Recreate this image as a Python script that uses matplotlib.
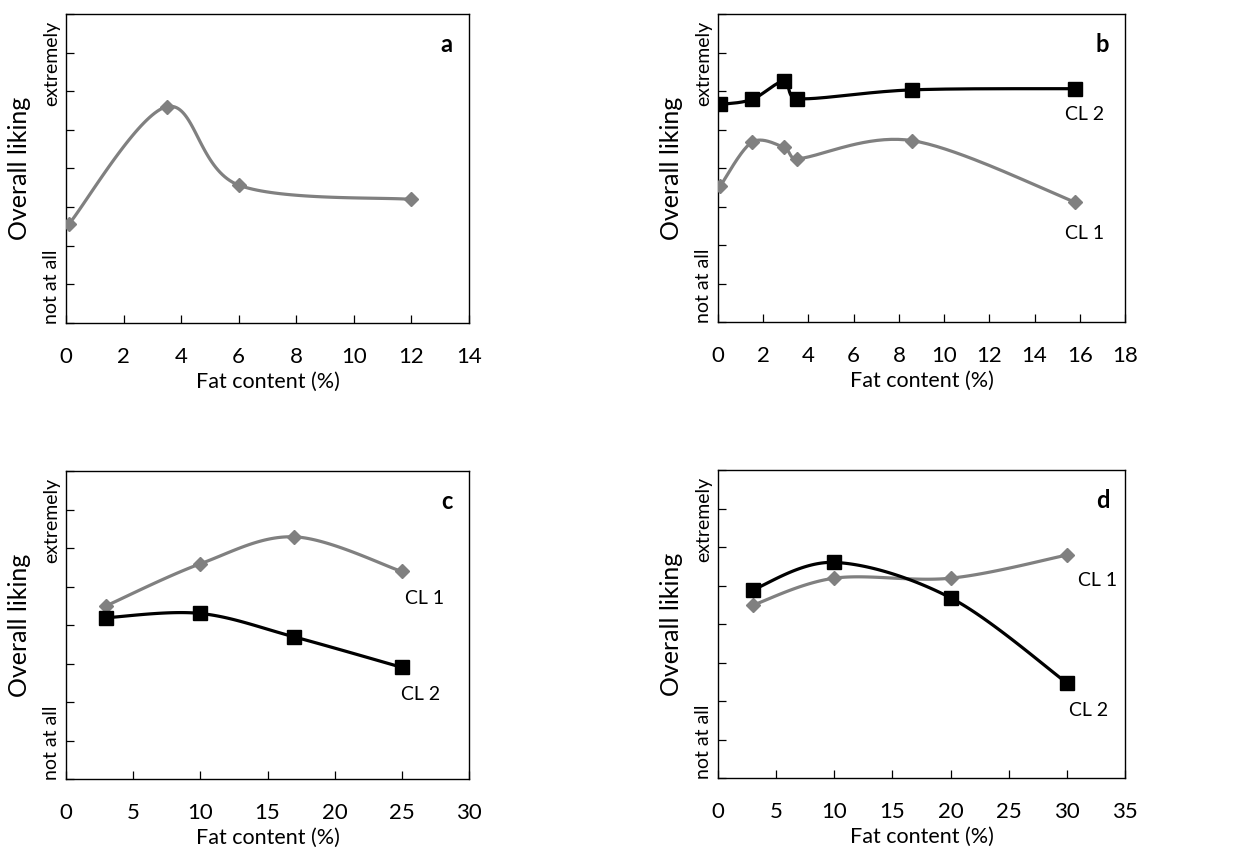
import numpy as np
import matplotlib
matplotlib.use("Agg")
import matplotlib.pyplot as plt

plt.rcParams['font.family'] = ['Lato', 'DejaVu Sans']

GREY = '#808080'
BLACK = '#000000'

# Panel a
a_fat = [0.1, 3.5, 6.0, 12.0]
a_cl = [2.56, 5.60, 3.57, 3.20]

# Panel b
b_fat = [0.1, 1.5, 2.9, 3.5, 8.6, 15.8]
b_cl1 = [3.53, 4.67, 4.54, 4.24, 4.71, 3.11]
b_cl2 = [5.65, 5.78, 6.25, 5.80, 6.03, 6.06]

# Panel c
c_fat = [3, 10, 17, 25]
c_cl1 = [4.50, 5.59, 6.29, 5.39]
c_cl2 = [4.19, 4.30, 3.69, 2.90]

# Panel d
d_fat = [3, 10, 20, 30]
d_cl1 = [4.49, 5.19, 5.19, 5.79]
d_cl2 = [4.89, 5.60, 4.68, 2.47]

x_limits = {'a': (0, 14), 'b': (0, 18), 'c': (0, 30), 'd': (0, 35)}
x_ticks = {'a': range(0, 15, 2), 'b': range(0, 19, 2),
           'c': range(0, 31, 5), 'd': range(0, 36, 5)}
Y_MAX = 8


def smooth(ax, xs, ys, n=40):
    """Piecewise cubic Bezier through the points, with tangents limited so
    that short segments do not loop (spreadsheet-style smoothing)."""
    x0, x1 = ax.get_xlim()
    y0, y1 = ax.get_ylim()
    bb = ax.get_position()
    sx_scale = bb.width / (x1 - x0)
    sy_scale = bb.height / (y1 - y0)
    p = np.column_stack([(np.asarray(xs, float) - x0) * sx_scale,
                         (np.asarray(ys, float) - y0) * sy_scale])
    m = len(p)
    tang = np.zeros_like(p)
    for i in range(m):
        a = p[max(i - 1, 0)]
        b = p[min(i + 1, m - 1)]
        tang[i] = (b - a) / 6.0
    out = []
    t = np.linspace(0, 1, n)[:, None]
    for i in range(m - 1):
        p0, p1 = p[i], p[i + 1]
        seg_len = np.linalg.norm(p1 - p0)
        d1, d2 = tang[i].copy(), tang[i + 1].copy()
        lim = seg_len / 2.5
        for d in (d1, d2):
            L = np.linalg.norm(d)
            if L > lim and L > 0:
                d *= lim / L
        c1 = p0 + d1
        c2 = p1 - d2
        seg = ((1 - t) ** 3) * p0 + 3 * ((1 - t) ** 2) * t * c1 \
            + 3 * (1 - t) * t ** 2 * c2 + t ** 3 * p1
        out.append(seg if i == 0 else seg[1:])
    s = np.vstack(out)
    return s[:, 0] / sx_scale + x0, s[:, 1] / sy_scale + y0


def series(ax, xs, ys, color, marker, ms):
    sx, sy = smooth(ax, xs, ys)
    ax.plot(sx, sy, color=color, lw=2.3, solid_capstyle='round', zorder=2)
    ax.plot(xs, ys, linestyle='none', marker=marker, ms=ms,
            color=color, mec=color, zorder=3)


def frame(ax, key, letter):
    ax.set_xlim(*x_limits[key])
    ax.set_ylim(0, Y_MAX)
    ax.set_xticks(list(x_ticks[key]))
    ax.set_yticks(range(Y_MAX + 1))
    ax.set_yticklabels([])
    ax.tick_params(axis='both', direction='in', length=6, width=0.9,
                   colors='black')
    ax.tick_params(axis='x', labelsize=16, pad=17)
    ax.tick_params(axis='y', left=True, right=False)
    ax.tick_params(axis='x', top=False)
    for sp in ax.spines.values():
        sp.set_linewidth(1.0)
        sp.set_color('black')
    ax.set_xlabel('Fat content (%)', fontsize=15.5, labelpad=4)
    ax.text(-0.115, 0.5, 'Overall liking', transform=ax.transAxes,
            rotation=90, ha='center', va='center', fontsize=18)
    ax.text(-0.036, 0.84, 'extremely', transform=ax.transAxes,
            rotation=90, ha='center', va='center', fontsize=14)
    ax.text(-0.036, 0.117, 'not at all', transform=ax.transAxes,
            rotation=90, ha='center', va='center', fontsize=14)
    ax.text(0.945, 0.90, letter, transform=ax.transAxes,
            ha='center', va='center', fontsize=17, fontweight='bold')


fig = plt.figure(figsize=(12.33, 8.52), dpi=100)
W, H = 1233, 852


def add_axes(left, top, right, bottom):
    return fig.add_axes([left / W, 1 - bottom / H, (right - left) / W,
                         (bottom - top) / H])


ax_a = add_axes(66, 14, 469, 323)
ax_b = add_axes(718, 14, 1125, 322)
ax_c = add_axes(66, 471, 469, 779)
ax_d = add_axes(718, 470, 1125, 778)

frame(ax_a, 'a', 'a')
series(ax_a, a_fat, a_cl, GREY, 'D', 7)

frame(ax_b, 'b', 'b')
series(ax_b, b_fat, b_cl1, GREY, 'D', 7)
series(ax_b, b_fat, b_cl2, BLACK, 's', 9.5)
ax_b.text(16.2, 5.40, 'CL 2', ha='center', va='center', fontsize=14)
ax_b.text(16.2, 2.29, 'CL 1', ha='center', va='center', fontsize=14)

frame(ax_c, 'c', 'c')
series(ax_c, c_fat, c_cl1, GREY, 'D', 7)
series(ax_c, c_fat, c_cl2, BLACK, 's', 9.5)
ax_c.text(26.7, 4.68, 'CL 1', ha='center', va='center', fontsize=14)
ax_c.text(26.4, 2.19, 'CL 2', ha='center', va='center', fontsize=14)

frame(ax_d, 'd', 'd')
series(ax_d, d_fat, d_cl1, GREY, 'D', 7)
series(ax_d, d_fat, d_cl2, BLACK, 's', 9.5)
ax_d.text(32.6, 5.13, 'CL 1', ha='center', va='center', fontsize=14)
ax_d.text(31.9, 1.75, 'CL 2', ha='center', va='center', fontsize=14)

fig.savefig('out.png', dpi=100)
